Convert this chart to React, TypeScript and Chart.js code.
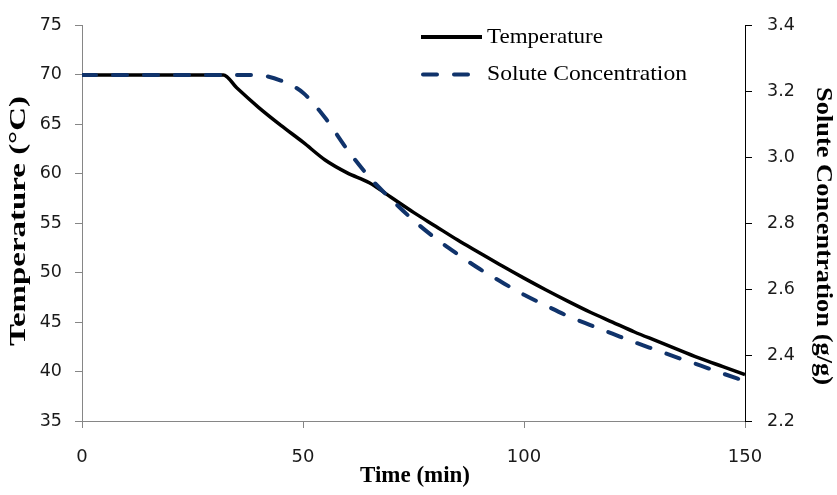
import React, { useEffect, useRef } from 'react';
import { Chart, registerables } from 'chart.js';

Chart.register(...registerables);

const timeMin = [0, 5, 10, 15, 20, 25, 30, 32, 35, 40, 45, 50, 55, 60, 65, 70, 75, 80, 85, 90, 95, 100, 105, 110, 115, 120, 125, 130, 135, 140, 145, 150];
const temperatureC = [70, 70, 70, 70, 70, 70, 70, 70, 68.7, 66.7, 64.9, 63.2, 61.4, 60.1, 59.1, 57.6, 56.1, 54.7, 53.3, 52.0, 50.7, 49.45, 48.25, 47.1, 46.0, 45.0, 44.0, 43.1, 42.2, 41.3, 40.5, 39.7];
const soluteConc = [3.25, 3.25, 3.25, 3.25, 3.25, 3.25, 3.25, 3.25, 3.25, 3.249, 3.233, 3.196, 3.12, 3.024, 2.94, 2.872, 2.809, 2.754, 2.706, 2.661, 2.621, 2.583, 2.55, 2.518, 2.491, 2.465, 2.439, 2.415, 2.391, 2.368, 2.344, 2.321];

const xTitle = 'Time (min)';
const yLeftTitle = 'Temperature (°C)';
const yRightTitle = 'Solute Concentration (g/g)';
const seriesNames = ['Temperature', 'Solute Concentration'];

const NAVY = '#10336b';
const AXIS_GREY = '#868686';
const TICK_FONT = 'DejaVu Sans';

function drawStretched(ctx: CanvasRenderingContext2D, text: string, font: string, cx: number, cy: number, rot: number, len: number, align: 'center' | 'left') {
  ctx.save();
  ctx.font = font;
  const w = ctx.measureText(text).width;
  ctx.translate(cx, cy);
  ctx.rotate(rot);
  ctx.scale(len / w, 1);
  ctx.textAlign = align;
  ctx.textBaseline = align === 'center' ? 'middle' : 'alphabetic';
  ctx.fillStyle = '#000';
  ctx.fillText(text, 0, 0);
  ctx.restore();
}

const decorPlugin = {
  id: 'decor',
  afterDraw(chart: any) {
    const ctx: CanvasRenderingContext2D = chart.ctx;
    const titleFont = 'bold 23px "Liberation Serif"';
    drawStretched(ctx, yLeftTitle, titleFont, 19, 221, -Math.PI / 2, 250, 'center');
    drawStretched(ctx, yRightTitle, titleFont, 823, 236, Math.PI / 2, 298, 'center');
    drawStretched(ctx, xTitle, titleFont, 415, 476, 0, 110, 'center');

    // legend
    ctx.save();
    ctx.strokeStyle = '#000';
    ctx.lineWidth = 4;
    ctx.lineCap = 'butt';
    ctx.beginPath();
    ctx.moveTo(421, 37);
    ctx.lineTo(482, 37);
    ctx.stroke();
    ctx.strokeStyle = NAVY;
    ctx.lineCap = 'round';
    ctx.setLineDash([14, 17]);
    ctx.beginPath();
    ctx.moveTo(423, 74.5);
    ctx.lineTo(479, 74.5);
    ctx.stroke();
    ctx.restore();
    const legFont = '21px "Liberation Serif"';
    drawStretched(ctx, seriesNames[0], legFont, 487, 42.5, 0, 116, 'left');
    drawStretched(ctx, seriesNames[1], legFont, 487, 80, 0, 200, 'left');
  },
};

export default function App() {
  const ref = useRef<HTMLCanvasElement>(null);
  useEffect(() => {
    if (!ref.current) return;
    const chart = new Chart(ref.current, {
      type: 'line',
      data: {
        datasets: [
          {
            label: seriesNames[0],
            data: timeMin.map((t, i) => ({ x: t, y: temperatureC[i] })),
            borderColor: '#000',
            borderWidth: 3.5,
            pointRadius: 0,
            cubicInterpolationMode: 'monotone',
            yAxisID: 'yT',
            order: 1,
          },
          {
            label: seriesNames[1],
            data: timeMin.map((t, i) => ({ x: t, y: soluteConc[i] })),
            borderColor: NAVY,
            borderWidth: 4,
            borderDash: [14, 17],
            borderCapStyle: 'round',
            pointRadius: 0,
            cubicInterpolationMode: 'monotone',
            yAxisID: 'yC',
            order: 0,
          },
        ],
      },
      options: {
        responsive: false,
        animation: false,
        devicePixelRatio: 1,
        layout: { padding: { top: 16, left: 0, right: 0, bottom: 0 } },
        plugins: { legend: { display: false }, tooltip: { enabled: false } },
        scales: {
          x: {
            type: 'linear',
            position: 'bottom',
            min: 0,
            max: 150,
            ticks: { stepSize: 50, padding: 19, color: '#1a1a1a', font: { family: TICK_FONT, size: 18 } },
            grid: { drawOnChartArea: false, drawTicks: true, tickLength: 7, color: AXIS_GREY },
            border: { color: AXIS_GREY, width: 1 },
            afterFit: (s: any) => { s.height = 74; },
          },
          yT: {
            type: 'linear',
            position: 'left',
            min: 35,
            max: 75,
            ticks: { stepSize: 5, padding: 13, color: '#1a1a1a', font: { family: TICK_FONT, size: 17.5 } },
            grid: { drawOnChartArea: false, drawTicks: true, tickLength: 7, color: AXIS_GREY },
            border: { color: AXIS_GREY, width: 1 },
            afterFit: (s: any) => { s.width = 82; },
          },
          yC: {
            type: 'linear',
            position: 'right',
            min: 2.2,
            max: 3.4,
            ticks: {
              stepSize: 0.2,
              padding: 15,
              color: '#1a1a1a',
              font: { family: TICK_FONT, size: 17.5 },
              callback: (v: any) => Number(v).toFixed(1),
            },
            grid: { drawOnChartArea: false, drawTicks: true, tickLength: 7, color: '#000' },
            border: { color: '#000', width: 1 },
            afterFit: (s: any) => { s.width = 92; },
          },
        },
      },
      plugins: [decorPlugin],
    } as any);
    return () => chart.destroy();
  }, []);
  return (
    <div style={{ position: 'absolute', left: 0, top: 0, width: 837, height: 495, background: '#fff' }}>
      <canvas ref={ref} width={837} height={495} style={{ display: 'block' }} />
    </div>
  );
}
